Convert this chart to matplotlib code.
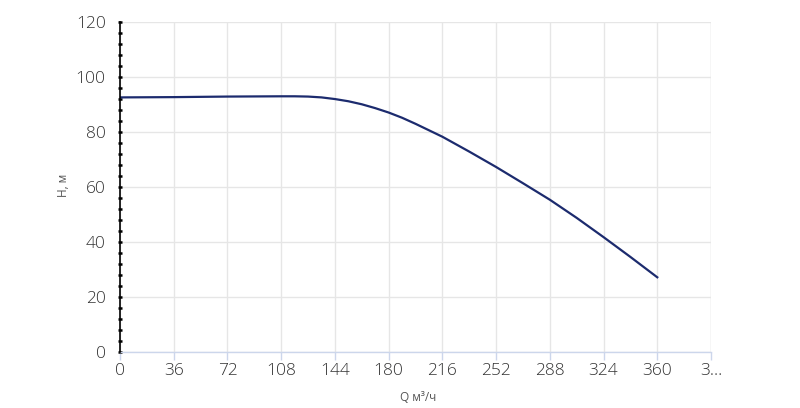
import numpy as np
import matplotlib
matplotlib.use('Agg')
import matplotlib.pyplot as plt
from matplotlib.ticker import MultipleLocator

# pump curve: flow Q (m3/h) vs head H (m)
q_vals = [0, 36, 72, 108, 117, 126, 135, 144, 153, 162, 171, 180, 189, 198, 216, 234,
          252, 270, 288, 306, 324, 342, 360]
h_vals = [92.6, 92.7, 92.9, 93.0, 93.0, 92.9, 92.6, 92.0, 91.2, 90.1, 88.7, 87.1,
          85.2, 83.0, 78.3, 72.9, 67.3, 61.4, 55.4, 48.8, 41.8, 34.6, 27.2]

x_ticks = [0, 36, 72, 108, 144, 180, 216, 252, 288, 324, 360, 396]
x_labels = ['0', '36', '72', '108', '144', '180', '216', '252', '288', '324', '360', '3…']
y_ticks = [0, 20, 40, 60, 80, 100, 120]

plt.rcParams['font.family'] = ['Open Sans', 'DejaVu Sans']
plt.rcParams['font.weight'] = 'light'

fig = plt.figure(figsize=(8, 4.08), dpi=100)
ax = fig.add_axes([0.15, 0.137, 0.73875, 0.809])

ax.plot(q_vals, h_vals, color='#1c2b6e', lw=1.6, solid_joinstyle='round', zorder=3)

ax.set_xlim(0, 396)
ax.set_ylim(0, 120)
ax.set_xticks(x_ticks)
ax.set_xticklabels(x_labels)
ax.set_yticks(y_ticks)
ax.yaxis.set_minor_locator(MultipleLocator(4))

ax.grid(True, color='#e6e6e6', lw=1)
ax.set_axisbelow(True)

for s in ['top', 'right']:
    ax.spines[s].set_visible(False)
ax.spines['bottom'].set_color('#ccd6eb')
ax.spines['bottom'].set_linewidth(1)
ax.spines['left'].set_color('black')
ax.spines['left'].set_linewidth(1.2)
ax.spines['left'].set_zorder(4)

# right edge line like the last gridline
ax.axvline(396, color='#e6e6e6', lw=1, zorder=0)

ax.tick_params(axis='x', length=6, width=1, color='#ccd6eb', labelsize=12.5,
               labelcolor='#333333', pad=2)
ax.tick_params(axis='y', which='major', length=2.5, width=1.8, direction='inout',
               color='black', labelsize=12.5, labelcolor='#333333', pad=9)
ax.tick_params(axis='y', which='minor', length=2.5, width=1.8, direction='inout',
               color='black')

ax.set_ylabel('H, м', fontsize=8.5, color='#555555')
ax.set_xlabel('Q м³/ч', fontsize=8.5, color='#555555')
ax.yaxis.set_label_coords(-0.095, 0.506)
ax.yaxis.label.set_va('center')
ax.xaxis.set_label_coords(0.504, -0.139)
ax.xaxis.label.set_va('center')

fig.savefig('out.png', dpi=100)
